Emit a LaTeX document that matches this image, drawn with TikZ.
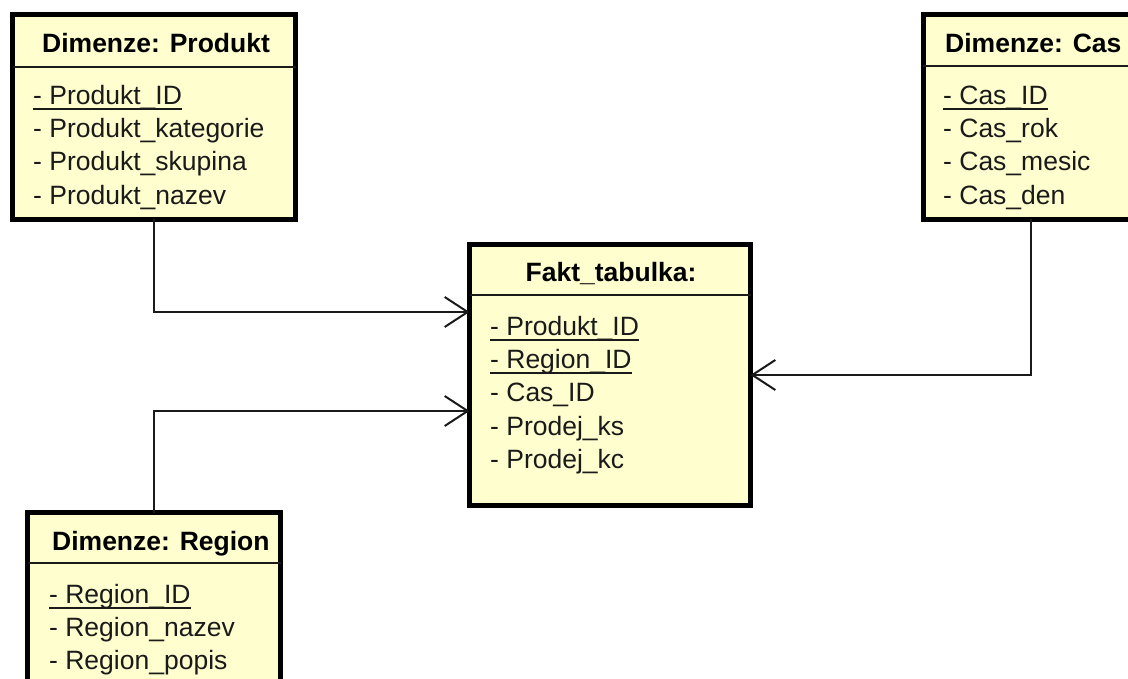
\documentclass[tikz,border=0pt]{standalone}
\usepackage{fontspec}
\setmainfont{Liberation Sans}
\usetikzlibrary{arrows.meta}
\definecolor{boxfill}{HTML}{FEFECE}
\definecolor{ink}{HTML}{1A1A1A}
\begin{document}
\begin{tikzpicture}[x=1pt,y=-1pt,
  entity/.style={draw=black, line width=5pt, fill=boxfill, rectangle, inner sep=0pt, outer sep=0pt},
  sep/.style={draw=ink, line width=2pt},
  title/.style={font=\fontsize{26.5}{30}\selectfont\bfseries, text=black, inner sep=0pt},
  attr/.style={font=\fontsize{26.5}{30}\selectfont, text=ink, inner sep=0pt, anchor=base west},
  keyline/.style={draw=ink, line width=2pt},
  link/.style={draw=ink, line width=2pt, -{Straight Barb[length=23pt,width=30pt]}}
]
\useasboundingbox (0,0) rectangle (1128,679);
\clip (0,0) rectangle (1128,679);

% entity boxes
\node[entity, minimum width=283pt, minimum height=205pt] (produkt) at (154,117) {};
\node[entity, minimum width=216pt, minimum height=205pt] (cas) at (1031,117) {};
\node[entity, minimum width=281pt, minimum height=261pt] (fakt) at (610,375) {};
\node[entity, minimum width=253pt, minimum height=220pt] (region) at (154,622.5) {};

% header separators
\draw[sep] ([yshift=-52.5pt]produkt.north west) -- ([yshift=-52.5pt]produkt.north east);
\draw[sep] ([yshift=-51.5pt]cas.north west) -- ([yshift=-51.5pt]cas.north east);
\draw[sep] ([yshift=-50.5pt]fakt.north west) -- ([yshift=-50.5pt]fakt.north east);
\draw[sep] ([yshift=-50.5pt]region.north west) -- ([yshift=-50.5pt]region.north east);

% Dimenze: Produkt
\node[title, anchor=base west] (produktT) at (42,53) {Dimenze: Produkt};
\node[attr] (p1) at (33,105) {- Produkt\_ID};
\node[attr] (p2) at (33,138) {- Produkt\_kategorie};
\node[attr] (p3) at (33,171) {- Produkt\_skupina};
\node[attr] (p4) at (33,205) {- Produkt\_nazev};
\draw[keyline] ([yshift=-4.5pt]p1.base west) -- ([yshift=-4.5pt]p1.base east);

% Dimenze: Cas
\node[title, anchor=base west] (casT) at (945,53) {Dimenze: Cas};
\node[attr] (c1) at (943,105) {- Cas\_ID};
\node[attr] (c2) at (943,138) {- Cas\_rok};
\node[attr] (c3) at (943,171) {- Cas\_mesic};
\node[attr] (c4) at (943,205) {- Cas\_den};
\draw[keyline] ([yshift=-4.5pt]c1.base west) -- ([yshift=-4.5pt]c1.base east);

% Fakt_tabulka
\node[title, anchor=base] (faktT) at (611,282) {Fakt\_tabulka:};
\node[attr] (f1) at (490,335) {- Produkt\_ID};
\node[attr] (f2) at (490,368) {- Region\_ID};
\node[attr] (f3) at (490,401) {- Cas\_ID};
\node[attr] (f4) at (490,435) {- Prodej\_ks};
\node[attr] (f5) at (490,468) {- Prodej\_kc};
\draw[keyline] ([yshift=-4.5pt]f1.base west) -- ([yshift=-4.5pt]f1.base east);
\draw[keyline] ([yshift=-4.5pt]f2.base west) -- ([yshift=-4.5pt]f2.base east);

% Dimenze: Region
\node[title, anchor=base west] (regionT) at (52,550) {Dimenze: Region};
\node[attr] (r1) at (49,603) {- Region\_ID};
\node[attr] (r2) at (49,636) {- Region\_nazev};
\node[attr] (r3) at (49,669) {- Region\_popis};
\draw[keyline] ([yshift=-4.5pt]r1.base west) -- ([yshift=-4.5pt]r1.base east);

% relations into the fact table
\draw[link] (produkt.south) |- ([yshift=63pt]fakt.west);
\draw[link] (region.north) |- ([yshift=-36pt]fakt.west);
\draw[link] (cas.south) |- (fakt.east);
\end{tikzpicture}
\end{document}
